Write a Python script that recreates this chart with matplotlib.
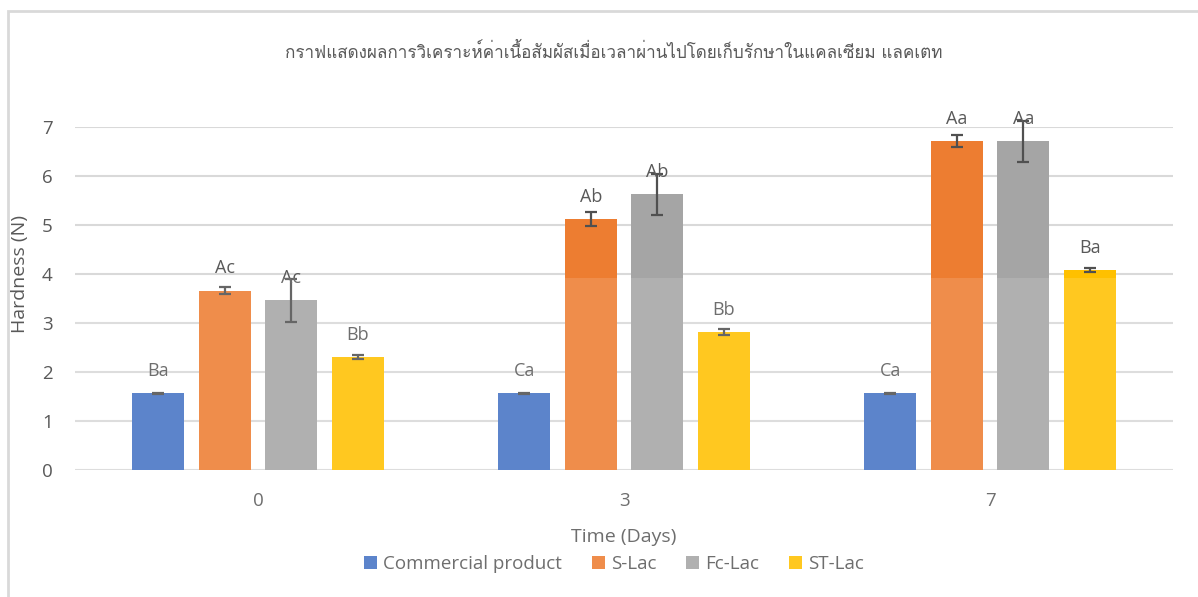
import numpy as np
import matplotlib
matplotlib.use("Agg")
import matplotlib.pyplot as plt
from matplotlib import font_manager
from matplotlib.ft2font import FT2Font
from matplotlib.patches import Rectangle

# ---- data ----
days = ["0", "3", "7"]
series = ["Commercial product", "S-Lac", "Fc-Lac", "ST-Lac"]

commercial = [1.57, 1.57, 1.57]
s_lac = [3.66, 5.12, 6.71]
fc_lac = [3.46, 5.63, 6.71]
st_lac = [2.31, 2.82, 4.08]

commercial_err = [0.01, 0.01, 0.01]
s_lac_err = [0.07, 0.15, 0.12]
fc_lac_err = [0.43, 0.42, 0.42]
st_lac_err = [0.04, 0.06, 0.04]

commercial_lbl = ["Ba", "Ca", "Ca"]
s_lac_lbl = ["Ac", "Ab", "Aa"]
fc_lac_lbl = ["Ac", "Ab", "Aa"]
st_lac_lbl = ["Bb", "Bb", "Ba"]

title = "กราฟแสดงผลการวิเคราะห์ค่าเนื้อสัมผัสเมื่อเวลาผ่านไปโดยเก็บรักษาในแคลเซียม แลคเตท"

# ---- find a font that has Thai glyphs ----
thai_font = None
for f in font_manager.fontManager.ttflist:
    try:
        if 0x0E01 in FT2Font(f.fname).get_charmap():
            thai_font = f.name
            break
    except Exception:
        pass

plt.rcParams['font.family'] = ['Open Sans', 'DejaVu Sans']
text_color = '#595959'
colors = ['#4472C4', '#ED7D31', '#A5A5A5', '#FFC000']

fig = plt.figure(figsize=(11.98, 5.97), dpi=100)
ax = fig.add_axes([75 / 1198, 1 - 470 / 597, 1098 / 1198, 343 / 597])

values = [commercial, s_lac, fc_lac, st_lac]
errors = [commercial_err, s_lac_err, fc_lac_err, st_lac_err]
labels = [commercial_lbl, s_lac_lbl, fc_lac_lbl, st_lac_lbl]

x = np.arange(len(days))
pitch = 0.182
width = 0.142
for i, name in enumerate(series):
    pos = x + (i - 1.5) * pitch
    ax.bar(pos, values[i], width, color=colors[i], label=name, zorder=2)
    ax.errorbar(pos, values[i], yerr=errors[i], fmt='none', ecolor='#505050',
                elinewidth=1.6, capsize=4, capthick=1.6, zorder=3, clip_on=False)
    for xp, v, t in zip(pos, values[i], labels[i]):
        ax.annotate(t, (xp, v), xytext=(0, 16), textcoords='offset points',
                    ha='center', va='center', fontsize=13, color=text_color)

ax.set_xlim(-0.5, 2.5)
ax.set_ylim(0, 7)
ax.set_yticks(range(0, 8))
ax.set_xticks(x)
ax.set_xticklabels(days)
ax.yaxis.grid(True, color='#D9D9D9', linewidth=1.5, zorder=0)
ax.set_axisbelow(True)
for s in ax.spines.values():
    s.set_visible(False)
ax.tick_params(length=0, labelsize=13.5, colors=text_color)
ax.tick_params(axis='x', pad=16)
ax.tick_params(axis='y', pad=16)
ax.set_xlabel("Time (Days)", fontsize=14, color=text_color, labelpad=13)
ax.set_ylabel("Hardness (N)", fontsize=14, color=text_color)
ax.yaxis.set_label_coords(-0.042, 0.57)

fig.text(614 / 1198, 1 - 52 / 597, title, ha='center', va='center',
         fontsize=12.3, color=text_color,
         family=[thai_font, 'DejaVu Sans'] if thai_font else None)

ax.legend(loc='center', bbox_to_anchor=(614 / 1198, 1 - 564 / 597),
          bbox_transform=fig.transFigure, ncol=4, frameon=False,
          fontsize=13.5, labelcolor=text_color, handlelength=0.7,
          handleheight=0.7, handletextpad=0.3, columnspacing=1.6)

# chart border
fig.patches.append(Rectangle((8 / 1198, -0.1), 1.2, 1.1 - 11 / 597,
                             transform=fig.transFigure, fill=False,
                             edgecolor='#D9D9D9', linewidth=2))
# faint light layer over the lower part (watermark area in the picture)
fig.patches.append(Rectangle((67 / 1198, 0), 1111 / 1198, 1 - 278 / 597,
                             transform=fig.transFigure, facecolor='white',
                             alpha=0.13, edgecolor='none', zorder=10))

fig.savefig("out.png", dpi=100)
